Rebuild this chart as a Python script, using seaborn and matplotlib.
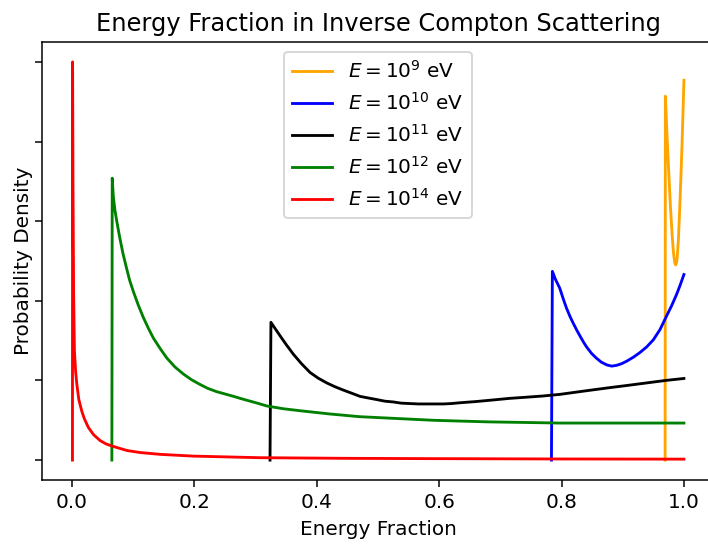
import matplotlib
matplotlib.use("Agg")
import matplotlib.pyplot as plt
import seaborn as sns
import pandas as pd

# ---- data (energy fraction, probability density) ----
labels = [r"$E=10^{9}$ eV", r"$E=10^{10}$ eV", r"$E=10^{11}$ eV",
          r"$E=10^{12}$ eV", r"$E=10^{14}$ eV"]
colors = ["orange", "blue", "black", "green", "red"]

x_e9 = [0.9693, 0.9697, 0.972, 0.975, 0.978, 0.981, 0.983, 0.985, 0.9865,
        0.988, 0.989, 0.991, 0.993, 0.995, 0.997, 0.999, 1.0]
y_e9 = [0.0, 4.57, 4.14, 3.65, 3.18, 2.80, 2.60, 2.48, 2.45,
        2.48, 2.54, 2.77, 3.13, 3.53, 3.98, 4.49, 4.77]

x_e10 = [0.7835, 0.785, 0.790, 0.797, 0.803, 0.808, 0.814, 0.819, 0.825,
         0.830, 0.836, 0.841, 0.849, 0.857, 0.865, 0.874, 0.882, 0.890,
         0.898, 0.906, 0.917, 0.928, 0.939, 0.950, 0.961, 0.9717, 0.980,
         0.988, 0.994, 1.0]
y_e10 = [0.0, 2.37, 2.27, 2.16, 2.02, 1.91, 1.80, 1.72, 1.63,
         1.56, 1.48, 1.42, 1.34, 1.28, 1.23, 1.195, 1.18, 1.19,
         1.21, 1.24, 1.29, 1.35, 1.42, 1.51, 1.64, 1.81, 1.94,
         2.08, 2.20, 2.33]

x_e11 = [0.3235, 0.325, 0.332, 0.340, 0.350, 0.3616, 0.375, 0.389, 0.402,
         0.416, 0.430, 0.443, 0.457, 0.4706, 0.484, 0.498, 0.511, 0.525,
         0.538, 0.552, 0.566, 0.580, 0.594, 0.607, 0.620, 0.634, 0.660,
         0.688, 0.715, 0.743, 0.770, 0.797, 0.835, 0.874, 0.910, 0.940,
         0.970, 1.0]
y_e11 = [0.0, 1.73, 1.65, 1.56, 1.45, 1.33, 1.21, 1.10, 1.03,
         0.97, 0.92, 0.88, 0.84, 0.80, 0.78, 0.76, 0.74, 0.73,
         0.715, 0.71, 0.705, 0.705, 0.705, 0.705, 0.71, 0.72, 0.735,
         0.755, 0.775, 0.79, 0.805, 0.825, 0.865, 0.905, 0.94, 0.97,
         1.0, 1.025]

x_e12 = [0.0650, 0.0656, 0.0665, 0.0675, 0.070, 0.073, 0.078, 0.083, 0.089,
         0.094, 0.100, 0.108, 0.1165, 0.125, 0.133, 0.144, 0.155, 0.168,
         0.182, 0.195, 0.209, 0.222, 0.236, 0.250, 0.264, 0.277, 0.291,
         0.305, 0.318, 0.345, 0.3725, 0.42, 0.47, 0.51, 0.55, 0.59,
         0.634, 0.68, 0.72, 0.76, 0.797, 0.85, 0.90, 0.95, 1.0]
y_e12 = [0.0, 3.54, 3.42, 3.30, 3.14, 3.00, 2.79, 2.60, 2.41,
         2.26, 2.12, 1.95, 1.79, 1.65, 1.53, 1.40, 1.28, 1.17,
         1.08, 1.01, 0.95, 0.90, 0.86, 0.83, 0.80, 0.77, 0.74,
         0.71, 0.68, 0.645, 0.62, 0.58, 0.545, 0.53, 0.515, 0.50,
         0.49, 0.48, 0.475, 0.47, 0.465, 0.465, 0.465, 0.465, 0.465]

x_e14 = [0.0006, 0.0008, 0.0015, 0.0025, 0.0038, 0.0058, 0.0077, 0.011,
         0.0158, 0.020, 0.0266, 0.035, 0.0458, 0.055, 0.062, 0.073, 0.090,
         0.111, 0.144, 0.198, 0.307, 0.45, 0.60, 0.80, 1.0]
y_e14 = [0.0, 5.0, 3.4, 2.1, 1.37, 1.11, 0.955, 0.76,
         0.615, 0.52, 0.41, 0.32, 0.245, 0.205, 0.185, 0.158, 0.12,
         0.095, 0.072, 0.05, 0.03, 0.022, 0.018, 0.014, 0.012]

series_x = [x_e9, x_e10, x_e11, x_e12, x_e14]
series_y = [y_e9, y_e10, y_e11, y_e12, y_e14]
x_ticks = [0.0, 0.2, 0.4, 0.6, 0.8, 1.0]
y_ticks = [0, 1, 2, 3, 4, 5]

# ---- figure ----
plt.rcParams["font.family"] = ["DejaVu Sans"]
plt.rcParams["font.size"] = 10.6
plt.rcParams["mathtext.fontset"] = "dejavusans"

DPI = 136
fig = plt.figure(figsize=(708 / DPI, 546 / DPI), dpi=DPI)
ax = fig.add_axes([41.5 / 708, 66 / 546, 673 / 708, 438 / 546])

for xs, ys, lab, col in zip(series_x, series_y, labels, colors):
    df = pd.DataFrame({"x": xs, "y": ys})
    sns.lineplot(data=df, x="x", y="y", ax=ax, color=col, label=lab,
                 sort=False, estimator=None, linewidth=1.5)

ax.set_xticks(x_ticks)
ax.set_xticklabels([f"{t:.1f}" for t in x_ticks])
ax.set_yticks(y_ticks)
ax.set_yticklabels([])
ax.set_xlim(-0.05, 1.05)
ax.set_ylim(-0.25, 5.25)
ax.set_xlabel("Energy Fraction")
ax.set_ylabel("Probability Density")
ax.yaxis.set_label_coords(-0.013, 0.5)
ax.set_title("Energy Fraction in Inverse Compton Scattering", fontsize=12.8)
ax.legend(loc="upper center")

fig.savefig("out.png", dpi=DPI)
